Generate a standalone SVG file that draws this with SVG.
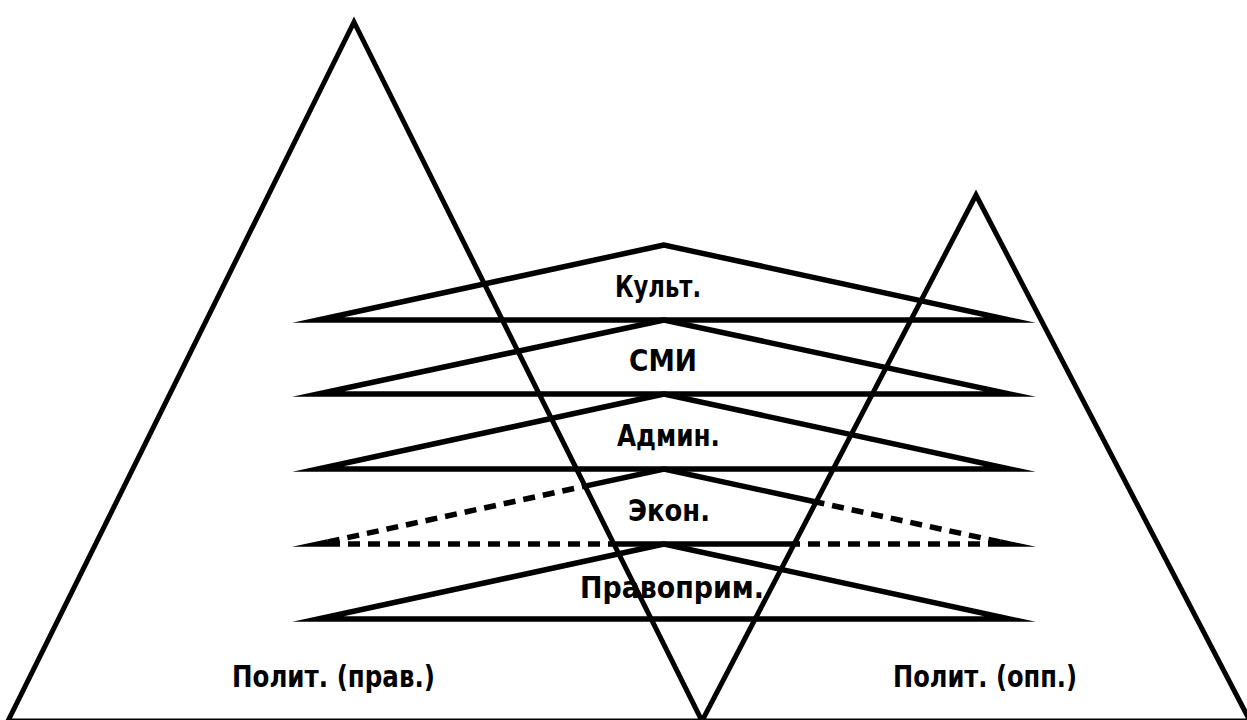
<svg xmlns="http://www.w3.org/2000/svg" width="1247" height="720" viewBox="0 0 1247 720">
<style>
.t{font-family:"DejaVu Sans Condensed","Liberation Sans Narrow","Liberation Sans",sans-serif;font-weight:bold;font-size:30px;fill:#000}
.s{fill:none;stroke:#000;stroke-width:5.5;stroke-linejoin:miter;stroke-miterlimit:20}
.d{fill:none;stroke:#000;stroke-width:5.5;stroke-dasharray:12 8;stroke-linejoin:miter;stroke-miterlimit:20}
.m{fill:none;stroke:#000;stroke-width:5;stroke-linejoin:miter;stroke-miterlimit:10}
</style>
<rect width="1247" height="720" fill="#fff"/>
<g id="labels">
<text class="t" x="615" y="297" textLength="86" lengthAdjust="spacingAndGlyphs">Культ.</text>
<text class="t" x="629" y="371" textLength="68" lengthAdjust="spacingAndGlyphs">СМИ</text>
<text class="t" x="617" y="446" textLength="103" lengthAdjust="spacingAndGlyphs">Админ.</text>
<text class="t" x="628" y="521" textLength="82" lengthAdjust="spacingAndGlyphs">Экон.</text>
<text class="t" x="580" y="598" textLength="184" lengthAdjust="spacingAndGlyphs">Правоприм.</text>
<text class="t" x="232" y="687" textLength="203" lengthAdjust="spacingAndGlyphs">Полит. (прав.)</text>
<text class="t" x="893" y="687" textLength="184" lengthAdjust="spacingAndGlyphs">Полит. (опп.)</text>
</g>
<g id="mountains">
<polygon id="polit-prav" class="m" points="354,22 8,721 702,721"/>
<polygon id="polit-opp" class="m" points="976,195 702,721 1250,721"/>
</g>
<g id="layers">
<polygon id="kult" class="s" points="664,245 318,320 1010,320"/>
<polygon id="smi" class="s" points="664,320 318,394 1010,394"/>
<polygon id="admin" class="s" points="664,394 318,469 1010,469"/>
<g id="ekon">
<path class="s" d="M585.1,486.1 L664,469 L816.1,502"/>
<path class="s" d="M613.9,544 L794.2,544"/>
<path class="s" d="M327.8,541.9 L318,544 L328,544"/>
<path class="s" d="M1000.2,541.9 L1010,544 L1000,544"/>
<path class="d" d="M327.8,541.9 L585.1,486.1"/>
<path class="d" d="M328,544 L613.9,544"/>
<path class="d" d="M1000.2,541.9 L816.1,502"/>
<path class="d" d="M1000,544 L794.2,544"/>
</g>
<polygon id="pravoprim" class="s" points="664,544 318,619 1010,619"/>
</g>
</svg>
